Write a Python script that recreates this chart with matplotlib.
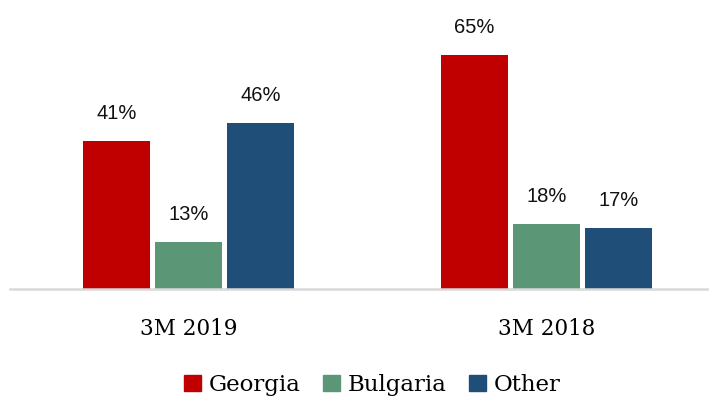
import matplotlib
matplotlib.use("Agg")
import matplotlib.pyplot as plt
from matplotlib.patches import Patch
import numpy as np

# ---- data ----
periods = ["3M 2019", "3M 2018"]
series = ["Georgia", "Bulgaria", "Other"]
shares = {
    "Georgia": [41, 65],
    "Bulgaria": [13, 18],
    "Other": [46, 17],
}
colors = {"Georgia": "#C00000", "Bulgaria": "#5B9676", "Other": "#1F4E79"}

W, H = 709, 400
fig = plt.figure(figsize=(W / 100, H / 100), dpi=100)
# axes from x=10..709 px, baseline at y=289 px, 3.6 px per %
ax = fig.add_axes([10 / W, (H - 289) / H, 699 / W, 300 / H])

x = np.arange(len(periods))
bw = 67 / 357.5
step = 72 / 357.5
for i, s in enumerate(series):
    xs = x + (i - 1) * step
    bars = ax.bar(xs, shares[s], width=bw, color=colors[s], zorder=2)
    for b, v in zip(bars, shares[s]):
        ax.text(b.get_x() + b.get_width() / 2, v + 5, f"{v}%",
                ha="center", va="bottom", fontsize=14.5, family="Liberation Sans",
                color="#111111")

ax.set_xlim(-0.5, 1.455)
ax.set_ylim(0, 300 / 3.6)
ax.set_yticks([])
ax.set_xticks(x)
ax.set_xticklabels(periods, family="DejaVu Serif", fontsize=15.5)
ax.tick_params(axis="x", length=0, pad=21)
for s in ("top", "right", "left"):
    ax.spines[s].set_visible(False)
ax.spines["bottom"].set_color("#d9d9d9")
ax.spines["bottom"].set_linewidth(1.8)

handles = [Patch(color=colors[s], label=s) for s in series]
fig.legend(handles=handles, loc="center", bbox_to_anchor=(0.525, 1 - 385 / H),
           ncol=3, frameon=False, prop={"family": "DejaVu Serif", "size": 16.5},
           handlelength=0.75, handleheight=0.75, handletextpad=0.35, columnspacing=0.95)

fig.savefig("out.png", dpi=100, facecolor="white")
